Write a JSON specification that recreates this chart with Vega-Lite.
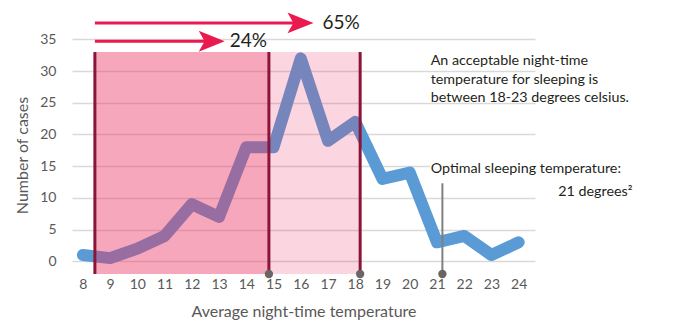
{
  "$schema": "https://vega.github.io/schema/vega-lite/v6.json",
  "width": 463,
  "height": 260,
  "autosize": {"type": "none"},
  "padding": {"left": 72, "top": 14, "right": 142, "bottom": 53},
  "background": "white",
  "config": {
    "view": {"stroke": null},
    "font": "Lato",
    "axis": {"labelFont": "Lato", "titleFont": "Lato", "labelColor": "#595959", "titleColor": "#595959", "labelFontSize": 14, "titleFontSize": 16, "titleFontWeight": "normal", "domain": false, "ticks": false}
  },
  "datasets": {
    "cases": [
      {"temp": 8, "cases": 1}, {"temp": 9, "cases": 0.5}, {"temp": 10, "cases": 2}, {"temp": 11, "cases": 4},
      {"temp": 12, "cases": 9}, {"temp": 13, "cases": 7}, {"temp": 14, "cases": 18}, {"temp": 15, "cases": 18},
      {"temp": 16, "cases": 32}, {"temp": 17, "cases": 19}, {"temp": 18, "cases": 22}, {"temp": 19, "cases": 13},
      {"temp": 20, "cases": 14}, {"temp": 21, "cases": 3}, {"temp": 22, "cases": 4}, {"temp": 23, "cases": 1},
      {"temp": 24, "cases": 3}
    ],
    "zones": [
      {"from": 8.44, "to": 14.83, "low": -2, "high": 33, "zone": "24%"},
      {"from": 14.83, "to": 18.18, "low": -2, "high": 33, "zone": "65%"}
    ],
    "bounds": [{"temp": 8.44, "low": -2, "high": 33}, {"temp": 14.83, "low": -2, "high": 33}, {"temp": 18.18, "low": -2, "high": 33}],
    "dots": [{"temp": 14.83, "low": -2}, {"temp": 18.18, "low": -2}, {"temp": 21.2, "low": -2}],
    "arrows": [
      {"label": "24%", "start": 8.44, "head": 12.73, "level": 34.7, "textx": 13.39},
      {"label": "65%", "start": 8.44, "head": 15.99, "level": 37.6, "textx": 16.8}
    ],
    "notes": [
      {"text": "An acceptable night-time", "x": 20.77, "y": 31.63},
      {"text": "temperature for sleeping is", "x": 20.77, "y": 28.6},
      {"text": "between 18-23 degrees celsius.", "x": 20.77, "y": 25.75},
      {"text": "Optimal sleeping temperature:", "x": 20.77, "y": 14.57}
    ]
  },
  "layer": [
    {
      "data": {"name": "cases"},
      "mark": {"type": "line", "stroke": "#5b9bd5", "strokeWidth": 12, "strokeCap": "round", "strokeJoin": "round"},
      "encoding": {
        "x": {"field": "temp", "type": "quantitative", "scale": {"domain": [7.6, 24.6], "nice": false, "zero": false}, "axis": {"values": [8,9,10,11,12,13,14,15,16,17,18,19,20,21,22,23,24], "grid": false, "labelPadding": 3, "title": "Average night-time temperature", "titlePadding": 12}},
        "y": {"field": "cases", "type": "quantitative", "scale": {"domain": [-2, 39], "nice": false, "zero": false}, "axis": {"values": [0,5,10,15,20,25,30,35], "grid": true, "gridColor": "#d9d9d9", "gridWidth": 1.5, "labelPadding": 16, "title": "Number of cases", "titleX": -42, "titleY": 141}}
      }
    },
    {
      "data": {"values": [{"x1": 20.75, "x2": 24.6, "y1": 13.9, "y2": 15.4}]},
      "mark": {"type": "rect", "fill": "white"},
      "encoding": {
        "x": {"field": "x1", "type": "quantitative", "axis": {"values": [8,9,10,11,12,13,14,15,16,17,18,19,20,21,22,23,24], "grid": false, "labelPadding": 3, "title": "Average night-time temperature", "titlePadding": 12}}, "x2": {"field": "x2"},
        "y": {"field": "y1", "type": "quantitative", "axis": {"values": [0,5,10,15,20,25,30,35], "grid": true, "gridColor": "#d9d9d9", "gridWidth": 1.5, "labelPadding": 16, "title": "Number of cases", "titleX": -42, "titleY": 141}}, "y2": {"field": "y2"}}
    },
    {
      "data": {"name": "zones"},
      "transform": [{"filter": "datum.zone == '24%'"}],
      "mark": {"type": "rect", "fill": "#eb2d5e", "opacity": 0.42},
      "encoding": {
        "x": {"field": "from", "type": "quantitative", "axis": {"values": [8,9,10,11,12,13,14,15,16,17,18,19,20,21,22,23,24], "grid": false, "labelPadding": 3, "title": "Average night-time temperature", "titlePadding": 12}}, "x2": {"field": "to"},
        "y": {"field": "low", "type": "quantitative", "axis": {"values": [0,5,10,15,20,25,30,35], "grid": true, "gridColor": "#d9d9d9", "gridWidth": 1.5, "labelPadding": 16, "title": "Number of cases", "titleX": -42, "titleY": 141}}, "y2": {"field": "high"}
      }
    },
    {
      "data": {"name": "zones"},
      "transform": [{"filter": "datum.zone == '65%'"}],
      "mark": {"type": "rect", "fill": "#eb2d5e", "opacity": 0.2},
      "encoding": {
        "x": {"field": "from", "type": "quantitative", "axis": {"values": [8,9,10,11,12,13,14,15,16,17,18,19,20,21,22,23,24], "grid": false, "labelPadding": 3, "title": "Average night-time temperature", "titlePadding": 12}}, "x2": {"field": "to"},
        "y": {"field": "low", "type": "quantitative", "axis": {"values": [0,5,10,15,20,25,30,35], "grid": true, "gridColor": "#d9d9d9", "gridWidth": 1.5, "labelPadding": 16, "title": "Number of cases", "titleX": -42, "titleY": 141}}, "y2": {"field": "high"}
      }
    },
    {
      "data": {"name": "bounds"},
      "mark": {"type": "rule", "stroke": "#8b1538", "strokeWidth": 3},
      "encoding": {
        "x": {"field": "temp", "type": "quantitative", "axis": {"values": [8,9,10,11,12,13,14,15,16,17,18,19,20,21,22,23,24], "grid": false, "labelPadding": 3, "title": "Average night-time temperature", "titlePadding": 12}},
        "y": {"field": "low", "type": "quantitative", "axis": {"values": [0,5,10,15,20,25,30,35], "grid": true, "gridColor": "#d9d9d9", "gridWidth": 1.5, "labelPadding": 16, "title": "Number of cases", "titleX": -42, "titleY": 141}}, "y2": {"field": "high"}}
    },
    {
      "data": {"values": [{"temp": 21.2, "low": -2, "top": 12.3}]},
      "mark": {"type": "rule", "stroke": "#7f7f7f", "strokeWidth": 2},
      "encoding": {
        "x": {"field": "temp", "type": "quantitative", "axis": {"values": [8,9,10,11,12,13,14,15,16,17,18,19,20,21,22,23,24], "grid": false, "labelPadding": 3, "title": "Average night-time temperature", "titlePadding": 12}},
        "y": {"field": "low", "type": "quantitative", "axis": {"values": [0,5,10,15,20,25,30,35], "grid": true, "gridColor": "#d9d9d9", "gridWidth": 1.5, "labelPadding": 16, "title": "Number of cases", "titleX": -42, "titleY": 141}}, "y2": {"field": "top"}}
    },
    {
      "data": {"name": "dots"},
      "mark": {"type": "point", "filled": true, "fill": "#6d6466", "opacity": 1, "size": 70, "shape": "circle"},
      "encoding": {
        "x": {"field": "temp", "type": "quantitative", "axis": {"values": [8,9,10,11,12,13,14,15,16,17,18,19,20,21,22,23,24], "grid": false, "labelPadding": 3, "title": "Average night-time temperature", "titlePadding": 12}},
        "y": {"field": "low", "type": "quantitative", "axis": {"values": [0,5,10,15,20,25,30,35], "grid": true, "gridColor": "#d9d9d9", "gridWidth": 1.5, "labelPadding": 16, "title": "Number of cases", "titleX": -42, "titleY": 141}}}
    },
    {
      "data": {"name": "arrows"},
      "mark": {"type": "rule", "stroke": "#ea1a4f", "strokeWidth": 3},
      "encoding": {
        "x": {"field": "start", "type": "quantitative", "axis": {"values": [8,9,10,11,12,13,14,15,16,17,18,19,20,21,22,23,24], "grid": false, "labelPadding": 3, "title": "Average night-time temperature", "titlePadding": 12}}, "x2": {"field": "head"},
        "y": {"field": "level", "type": "quantitative", "axis": {"values": [0,5,10,15,20,25,30,35], "grid": true, "gridColor": "#d9d9d9", "gridWidth": 1.5, "labelPadding": 16, "title": "Number of cases", "titleX": -42, "titleY": 141}}}
    },
    {
      "data": {"name": "arrows"},
      "mark": {"type": "point", "filled": true, "fill": "#ea1a4f", "opacity": 1, "size": 676, "shape": "M1,0L-1,-0.8L-0.55,0L-1,0.8Z"},
      "encoding": {
        "x": {"field": "head", "type": "quantitative", "axis": {"values": [8,9,10,11,12,13,14,15,16,17,18,19,20,21,22,23,24], "grid": false, "labelPadding": 3, "title": "Average night-time temperature", "titlePadding": 12}},
        "y": {"field": "level", "type": "quantitative", "axis": {"values": [0,5,10,15,20,25,30,35], "grid": true, "gridColor": "#d9d9d9", "gridWidth": 1.5, "labelPadding": 16, "title": "Number of cases", "titleX": -42, "titleY": 141}}}
    },
    {
      "data": {"name": "arrows"},
      "mark": {"type": "text", "align": "left", "baseline": "middle", "fontSize": 19, "color": "#231f20", "font": "Lato"},
      "encoding": {
        "x": {"field": "textx", "type": "quantitative", "axis": {"values": [8,9,10,11,12,13,14,15,16,17,18,19,20,21,22,23,24], "grid": false, "labelPadding": 3, "title": "Average night-time temperature", "titlePadding": 12}},
        "y": {"field": "level", "type": "quantitative", "axis": {"values": [0,5,10,15,20,25,30,35], "grid": true, "gridColor": "#d9d9d9", "gridWidth": 1.5, "labelPadding": 16, "title": "Number of cases", "titleX": -42, "titleY": 141}},
        "text": {"field": "label", "type": "nominal"}}
    },
    {
      "data": {"name": "notes"},
      "mark": {"type": "text", "align": "left", "baseline": "middle", "fontSize": 14.3, "color": "#231f20", "font": "Lato"},
      "encoding": {
        "x": {"field": "x", "type": "quantitative", "axis": {"values": [8,9,10,11,12,13,14,15,16,17,18,19,20,21,22,23,24], "grid": false, "labelPadding": 3, "title": "Average night-time temperature", "titlePadding": 12}},
        "y": {"field": "y", "type": "quantitative", "axis": {"values": [0,5,10,15,20,25,30,35], "grid": true, "gridColor": "#d9d9d9", "gridWidth": 1.5, "labelPadding": 16, "title": "Number of cases", "titleX": -42, "titleY": 141}},
        "text": {"field": "text", "type": "nominal"}}
    },
    {
      "data": {"values": [{"text": "21 degrees²", "x": 28.18, "y": 11.0}]},
      "mark": {"type": "text", "align": "right", "baseline": "middle", "fontSize": 14.3, "color": "#231f20", "font": "Lato"},
      "encoding": {
        "x": {"field": "x", "type": "quantitative", "axis": {"values": [8,9,10,11,12,13,14,15,16,17,18,19,20,21,22,23,24], "grid": false, "labelPadding": 3, "title": "Average night-time temperature", "titlePadding": 12}},
        "y": {"field": "y", "type": "quantitative", "axis": {"values": [0,5,10,15,20,25,30,35], "grid": true, "gridColor": "#d9d9d9", "gridWidth": 1.5, "labelPadding": 16, "title": "Number of cases", "titleX": -42, "titleY": 141}},
        "text": {"field": "text", "type": "nominal"}}
    }
  ]
}
